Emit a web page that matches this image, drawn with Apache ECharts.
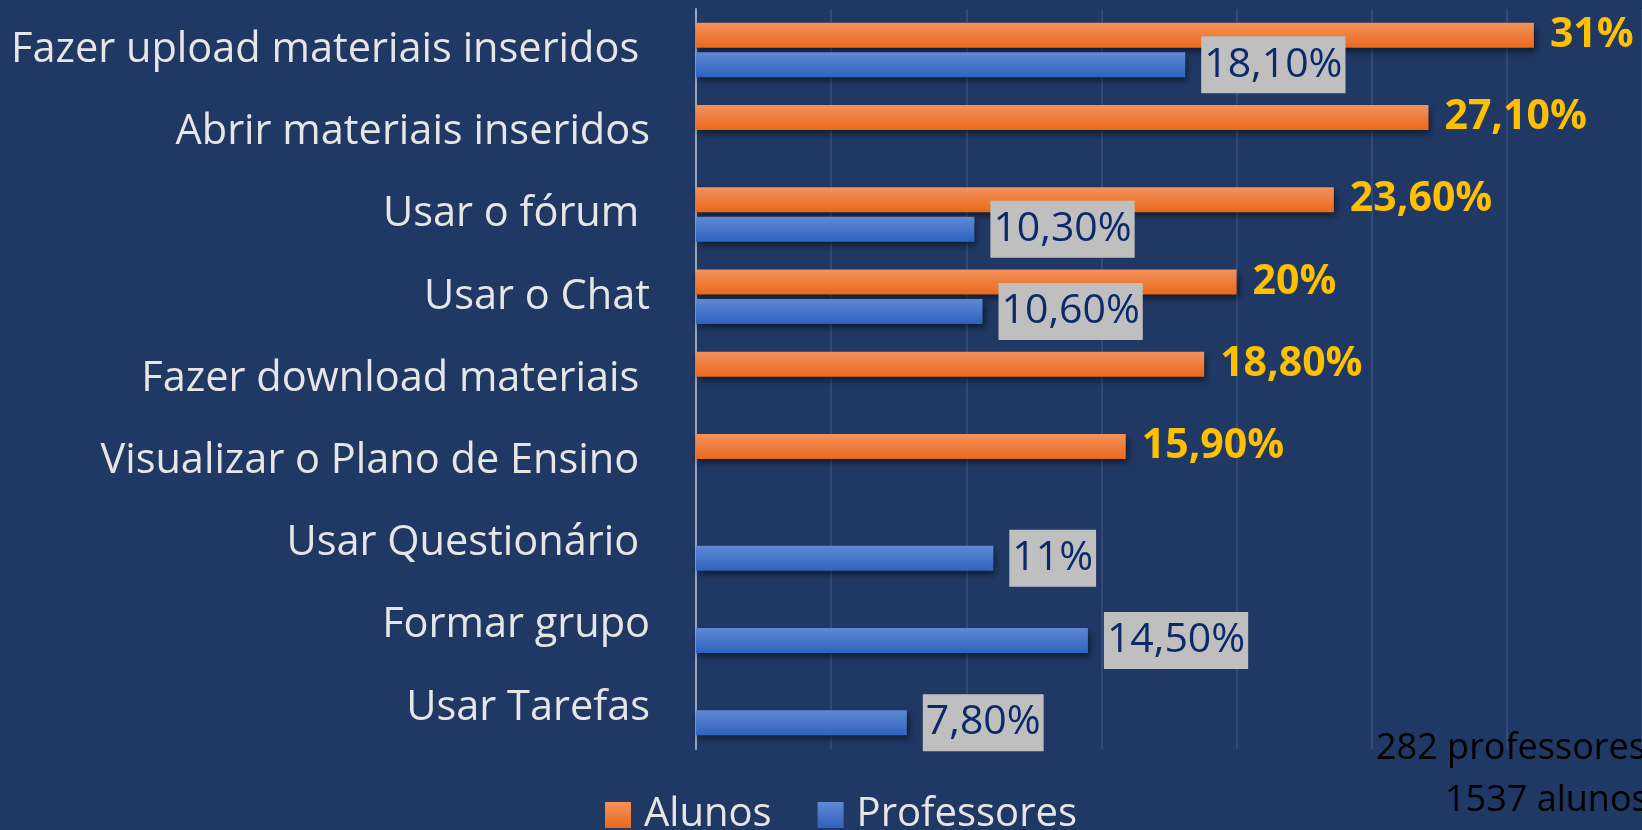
<!DOCTYPE html>
<html>
<head>
<meta charset="utf-8">
<script src="https://cdn.jsdelivr.net/npm/echarts@6/dist/echarts.min.js"></script>
<style>
html,body{margin:0;padding:0;background:#203864;}
#c{width:1642px;height:830px;}
</style>
</head>
<body>
<div id="c"></div>
<script>
const categories = ['Fazer upload materiais inseridos ', 'Abrir materiais inseridos', 'Usar o fórum ', 'Usar o Chat', 'Fazer download materiais ', 'Visualizar o Plano de Ensino ', 'Usar Questionário ', 'Formar grupo', 'Usar Tarefas'];
const alunos = [31, 27.1, 23.6, 20, 18.8, 15.9, null, null, null];
const professores = [18.1, null, 10.3, 10.6, null, null, 11, 14.5, 7.8];
const seriesNames = ['Alunos', 'Professores'];
const notes = ['282 professores', '1537 alunos'];

const FONT = 'Open Sans';
function fmt(p) {
  const v = p.value;
  if (v == null) return '';
  return (v % 1 === 0 ? String(v) : v.toFixed(2).replace('.', ',')) + '%';
}
const orangeGrad = new echarts.graphic.LinearGradient(0, 0, 0, 1, [
  {offset: 0, color: '#f4925c'}, {offset: 1, color: '#e8691c'}]);
const blueGrad = new echarts.graphic.LinearGradient(0, 0, 0, 1, [
  {offset: 0, color: '#6089d4'}, {offset: 1, color: '#2f62bf'}]);
const shadow = {shadowColor: 'rgba(0,0,0,0.55)', shadowBlur: 7, shadowOffsetX: 2, shadowOffsetY: 4};

const chart = echarts.init(document.getElementById('c'));
chart.setOption({
  backgroundColor: '#203864',
  animation: false,
  grid: {left: 696, top: 9, height: 740, width: 953},
  xAxis: {
    type: 'value', min: 0, max: 35, interval: 5,
    axisLabel: {show: false}, axisLine: {show: false}, axisTick: {show: false},
    splitLine: {show: true, lineStyle: {color: '#3a5080', width: 1.5}}
  },
  yAxis: {
    type: 'category', data: categories, inverse: true,
    axisTick: {show: false},
    axisLine: {show: true, lineStyle: {color: '#9aa6bd', width: 2}},
    axisLabel: {color: '#e6e6e6', fontSize: 41.5, fontFamily: FONT, margin: 46}
  },
  legend: {
    data: seriesNames, left: 600, top: 790, itemWidth: 26, itemHeight: 26, itemGap: 46,
    icon: 'rect',
    textStyle: {color: '#e6e6e6', fontSize: 40, fontFamily: FONT, padding: [0, 0, 0, 8], lineHeight: 26}
  },
  series: [
    {
      name: seriesNames[0], type: 'bar', data: alunos, barWidth: 25, barGap: '18%',
      itemStyle: Object.assign({color: orangeGrad}, shadow),
      label: {show: true, position: 'right', distance: 16, formatter: fmt,
        color: '#ffc000', fontWeight: 'bold', fontSize: 41, fontFamily: FONT}
    },
    {
      name: seriesNames[1], type: 'bar', data: professores, barWidth: 25,
      itemStyle: Object.assign({color: blueGrad}, shadow),
      label: {show: true, position: 'right', distance: 16, formatter: fmt,
        color: '#0c2a6a', fontSize: 41, fontFamily: FONT, backgroundColor: '#bfbfbf',
        padding: [5, 3, 5, 3], lineHeight: 47}
    }
  ],
  graphic: [
    {type: 'text', left: 1376, top: 731, style: {text: notes[0], fill: '#000', font: '36px "Open Sans"'}},
    {type: 'text', left: 1445, top: 783, style: {text: notes[1], fill: '#000', font: '36px "Open Sans"'}}
  ]
});
</script>
</body>
</html>
